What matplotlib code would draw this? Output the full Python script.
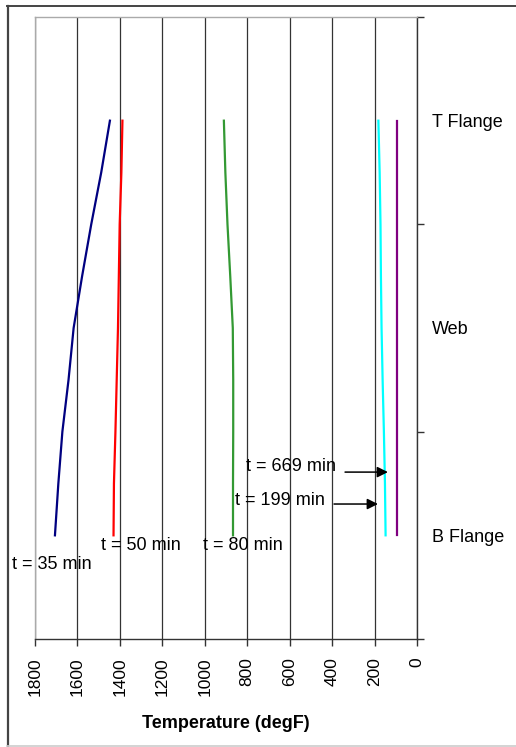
import matplotlib
matplotlib.use("Agg")
import matplotlib.pyplot as plt
from matplotlib.lines import Line2D

plt.rcParams['font.family'] = ['Liberation Sans', 'DejaVu Sans']

# ---- data ----
positions = [0.5, 0.75, 1.0, 1.25, 1.5, 1.75, 2.0, 2.25, 2.5]
temp_35 = [1706, 1690, 1671, 1642, 1618, 1578, 1535, 1488, 1447]
temp_50 = [1430, 1428, 1421, 1415, 1409, 1405, 1401, 1393, 1388]
temp_80 = [867, 867, 866, 866, 868, 880, 893, 903, 910]
temp_199 = [148, 151, 156, 162, 167, 170, 172, 176, 182]
temp_669 = [96, 96, 96, 96, 96, 96, 96, 96, 96]
series = [temp_35, temp_50, temp_80, temp_199, temp_669]
colors = ['#000080', '#ff0000', '#339933', '#00ffff', '#800080']
section_labels = ["B Flange", "Web", "T Flange"]
x_ticks = [1800, 1600, 1400, 1200, 1000, 800, 600, 400, 200, 0]
time_labels = ["t = 35 min", "t = 50 min", "t = 80 min", "t = 199 min", "t = 669 min"]

W, H = 516, 747
fig = plt.figure(figsize=(W / 100, H / 100), dpi=100)
fig.patch.set_facecolor('white')

# outer frame (left and top dark, bottom light)
fig.lines.append(Line2D([7.5 / W, 7.5 / W], [1 - 6 / H, 1 - 746 / H], transform=fig.transFigure,
                        color='#444444', linewidth=1.6))
fig.lines.append(Line2D([7 / W, 1.0], [1 - 6 / H, 1 - 6 / H], transform=fig.transFigure,
                        color='#444444', linewidth=1.4))
fig.lines.append(Line2D([7 / W, 1.0], [1 - 746 / H, 1 - 746 / H], transform=fig.transFigure,
                        color='#cccccc', linewidth=1.2))

ax = fig.add_axes([35 / W, 1 - 639 / H, 382 / W, 622 / H])
for s, c in zip(series, colors):
    ax.plot(s, positions, color=c, linewidth=1.6, zorder=3)

ax.set_xlim(1800, 0)
ax.set_ylim(0, 3)
ax.set_xticks(x_ticks)
ax.set_xticklabels([str(v) for v in x_ticks], rotation=90, fontsize=12.5)
ax.tick_params(axis='x', direction='out', length=5, width=1, color='#333333', pad=8)
ax.grid(axis='x', color='#333333', linewidth=0.9)
ax.set_axisbelow(True)

ax.yaxis.tick_right()
ax.set_yticks([0, 1, 2, 3])
ax.set_yticklabels([])
ax.set_yticks([0.5, 1.5, 2.5], minor=True)
ax.set_yticklabels(section_labels, minor=True, fontsize=13)
ax.tick_params(axis='y', which='major', direction='out', length=5, width=1, color='#333333')
ax.tick_params(axis='y', which='minor', length=0, pad=11)

ax.spines['left'].set_color('#aaaaaa')
ax.spines['top'].set_color('#aaaaaa')
ax.spines['right'].set_color('#333333')
ax.spines['bottom'].set_color('#333333')
for sp in ax.spines.values():
    sp.set_linewidth(1.0)

ax.set_xlabel("Temperature (degF)", fontsize=13, fontweight='bold', labelpad=14)

# annotations
ax.text(1908, 0.357, time_labels[0], fontsize=13, va='center', ha='left', clip_on=False)
ax.text(1489, 0.453, time_labels[1], fontsize=13, va='center', ha='left')
ax.text(1008, 0.453, time_labels[2], fontsize=13, va='center', ha='left')
ax.text(858, 0.67, time_labels[3], fontsize=13, va='center', ha='left')
ax.text(806, 0.83, time_labels[4], fontsize=13, va='center', ha='left')
arrow_style = dict(arrowstyle='-|>', color='black', lw=1.1, shrinkA=0, shrinkB=0,
                   mutation_scale=16)
ax.annotate("", xy=(184, 0.651), xytext=(391, 0.651), arrowprops=arrow_style)
ax.annotate("", xy=(137, 0.805), xytext=(339, 0.805), arrowprops=arrow_style)

fig.savefig("out.png", dpi=100)
